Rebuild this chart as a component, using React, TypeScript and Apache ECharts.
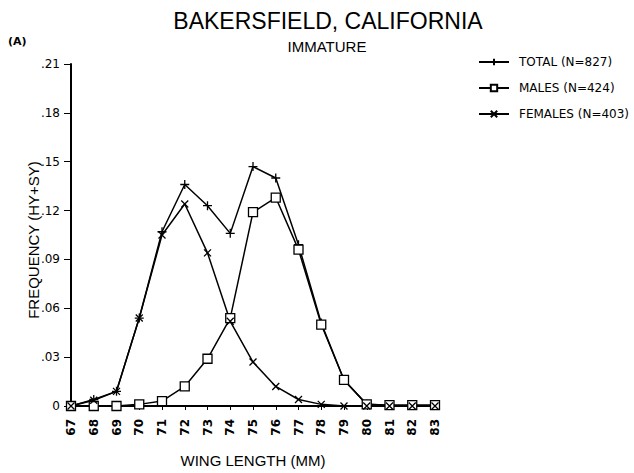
import React, { useEffect, useRef } from "react";
import * as echarts from "echarts";

const wingLengths = [67, 68, 69, 70, 71, 72, 73, 74, 75, 76, 77, 78, 79, 80, 81, 82, 83];
const totalFreq = [0, 0.004, 0.009, 0.054, 0.107, 0.136, 0.123, 0.106, 0.147, 0.140, 0.099, 0.051, 0.016, 0.001, 0.0005, 0.0005, 0.0005];
const maleFreq = [0, 0, 0, 0.001, 0.003, 0.012, 0.029, 0.054, 0.119, 0.128, 0.096, 0.050, 0.016, 0.001, 0.0005, 0.0005, 0.0005];
const femaleFreq = [0, 0.0035, 0.009, 0.054, 0.105, 0.124, 0.094, 0.052, 0.027, 0.012, 0.004, 0.001, 0, 0, 0, 0, 0];
const seriesNames = ["TOTAL (N=827)", "MALES (N=424)", "FEMALES (N=403)"];

const FONT = "'Liberation Sans', Arial, sans-serif";
const DV = "'DejaVu Sans', sans-serif";
const PLUS = "path://M5,0L5,10M0,5L10,5";
const CROSS = "path://M0,0L10,10M10,0L0,10";

export default function App() {
  const ref = useRef<HTMLDivElement>(null);
  useEffect(() => {
    const chart = echarts.init(ref.current!, undefined, { renderer: "svg" });
    const mk = (vals: number[]) => wingLengths.map((x, i) => [x, vals[i]]);
    const lineStyle = { color: "#000", width: 1.5 };
    chart.setOption({
      animation: false,
      backgroundColor: "#fff",
      textStyle: { fontFamily: FONT, color: "#000" },
      grid: { left: 71, right: 199, top: 64, bottom: 60 },
      graphic: [
        { type: "text", x: 328, y: 9, style: { text: "BAKERSFIELD, CALIFORNIA", font: `23px ${FONT}`, fill: "#000", textAlign: "center", textVerticalAlign: "top" } },
        { type: "text", x: 327, y: 39, style: { text: "IMMATURE", font: `15px ${FONT}`, fill: "#000", textAlign: "center", textVerticalAlign: "top" } },
        { type: "text", x: 8, y: 36, style: { text: "(A)", font: `bold 11px ${DV}`, fill: "#000" } },
        { type: "text", x: 33, y: 240, rotation: Math.PI / 2, style: { text: "FREQUENCY (HY+SY)", font: `15px ${FONT}`, fill: "#000", textAlign: "center", textVerticalAlign: "middle" } },
      ],
      legend: {
        orient: "vertical",
        left: 478,
        top: 56,
        padding: 0,
        itemWidth: 30,
        itemHeight: 8,
        itemGap: 14,
        textStyle: { fontFamily: DV, fontSize: 12, color: "#000", padding: [0, 0, 0, 5] },
        data: seriesNames,
      },
      xAxis: {
        type: "value",
        min: 67,
        max: 83,
        interval: 1,
        name: "WING LENGTH (MM)",
        nameLocation: "middle",
        nameGap: 47,
        nameTextStyle: { fontFamily: FONT, fontSize: 15, color: "#000" },
        axisLine: { lineStyle: { color: "#000", width: 2 } },
        axisTick: { lineStyle: { color: "#000" }, length: 4 },
        axisLabel: { rotate: 90, fontSize: 12, fontWeight: "bold", color: "#000", margin: 13, fontFamily: DV },
        splitLine: { show: false },
      },
      yAxis: {
        type: "value",
        min: 0,
        max: 0.21,
        interval: 0.03,
        axisLine: { show: true, lineStyle: { color: "#000", width: 2 } },
        axisTick: { show: true, lineStyle: { color: "#000" }, length: 7 },
        axisLabel: {
          fontSize: 12,
          color: "#000",
          margin: 11,
          fontFamily: DV,
          formatter: (v: number) => (Math.abs(v) < 1e-9 ? "0" : v.toFixed(2).replace(/^0/, "")),
        },
        splitLine: { show: false },
      },
      series: [
        {
          name: seriesNames[0],
          type: "line",
          data: mk(totalFreq),
          symbol: PLUS,
          symbolSize: 9,
          lineStyle,
          itemStyle: { color: "#000", borderColor: "#000", borderWidth: 1.3 },
        },
        {
          name: seriesNames[1],
          type: "line",
          data: mk(maleFreq),
          symbol: "rect",
          symbolSize: 9,
          lineStyle,
          itemStyle: { color: "#fff", borderColor: "#000", borderWidth: 1.3 },
        },
        {
          name: seriesNames[2],
          type: "line",
          data: mk(femaleFreq),
          symbol: CROSS,
          symbolSize: 7,
          lineStyle,
          itemStyle: { color: "#000", borderColor: "#000", borderWidth: 1.3 },
        },
      ],
    });
    return () => chart.dispose();
  }, []);
  return <div ref={ref} style={{ width: 634, height: 473, position: "absolute", left: 0, top: 0 }} />;
}
